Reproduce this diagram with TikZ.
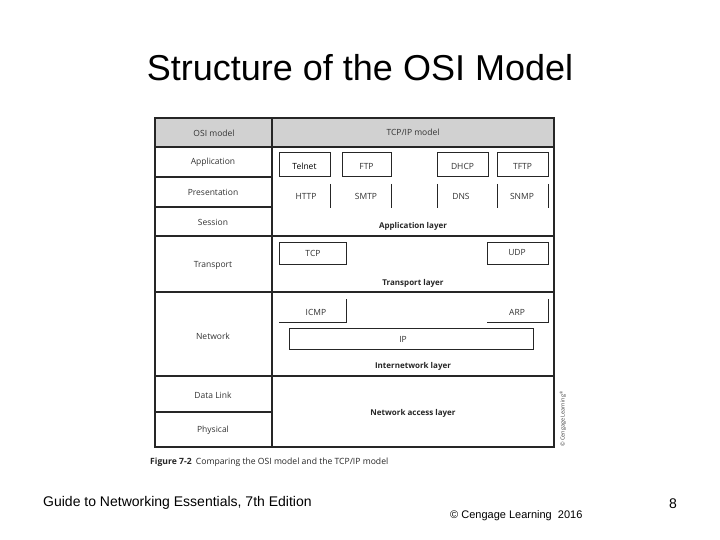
\documentclass[tikz,border=0pt]{standalone}
\usepackage{fontspec}
\setmainfont{Liberation Sans}
\newfontfamily\tabfont{Open Sans}
\begin{document}
\begin{tikzpicture}[x=1pt,y=-1pt,
  thickline/.style={line width=2pt,draw=black!85},
  thinline/.style={line width=1pt,draw=black!85},
  celltext/.style={font=\tabfont\fontsize{8.5}{9}\selectfont,text=black!80,inner sep=0pt},
  layertext/.style={font=\tabfont\bfseries\fontsize{8}{9}\selectfont,text=black!85,inner sep=0pt},
  title/.style={font=\fontsize{36}{40}\selectfont,inner sep=0pt},
  footer/.style={font=\fontsize{14}{16}\selectfont,inner sep=0pt}]
\useasboundingbox (0,0) rectangle (720,540);
\fill[white] (0,0) rectangle (720,540);

% title
\node[title] (ttl) at (360,68) {Structure of the OSI Model};

% header background
\fill[black!18] (155,118) rectangle (554,147);

% table grid
\draw[thickline] (155,118) rectangle (554,447);
\draw[thickline] (155,147) -- (554,147);
\draw[thickline] (272,118) -- (272,447);
\draw[thickline] (155,177) -- (272,177);
\draw[thickline] (155,207) -- (272,207);
\draw[thickline] (155,236) -- (554,236);
\draw[thickline] (155,292) -- (554,292);
\draw[thickline] (155,376) -- (554,376);
\draw[thickline] (155,412) -- (272,412);

% protocol boxes
\draw[thinline] (279,153) rectangle (330,177);
\draw[thinline] (342,153) rectangle (391,177);
\draw[thinline] (437,153) rectangle (488,177);
\draw[thinline] (497,153) rectangle (548,177);
\draw[thinline] (330,184) -- (330,208);
\draw[thinline] (391,184) -- (391,208);
\draw[thinline] (437,184) -- (437,208);
\draw[thinline] (497,184) -- (497,208);
\draw[thinline] (548,184) -- (548,208);
\draw[thinline] (279,242) rectangle (346,264);
\draw[thinline] (487,242) rectangle (548,264);
\draw[thinline] (346,299) -- (346,322) -- (279,322);
\draw[thinline] (548,299) -- (548,322) -- (487,322);
\draw[thinline] (289,328) rectangle (533,349);

% header texts
\node[celltext] (hosi) at (214,133) {OSI model};
\node[celltext] (htcp) at (413,132) {TCP/IP model};

% OSI layers
\node[celltext] (app) at (213,162) {Application};
\node[celltext] (pres) at (213,192) {Presentation};
\node[celltext] (sess) at (213,222) {Session};
\node[celltext] (trans) at (213,265) {Transport};
\node[celltext] (net) at (213,336) {Network};
\node[celltext] (dl) at (213,395) {Data Link};
\node[celltext] (phy) at (213,430) {Physical};

% protocols
\node[celltext,text=black] (telnet) at (304.5,166) {Telnet};
\node[celltext] (ftp) at (366.5,166) {FTP};
\node[celltext] (dhcp) at (462.5,166) {DHCP};
\node[celltext] (tftp) at (522.5,166) {TFTP};
\node[celltext] (http) at (306,196) {HTTP};
\node[celltext] (smtp) at (366,196) {SMTP};
\node[celltext] (dns) at (461,196) {DNS};
\node[celltext] (snmp) at (522,196) {SNMP};
\node[celltext] (tcp) at (313,253) {TCP};
\node[celltext] (udp) at (517,253) {UDP};
\node[celltext] (icmp) at (316,312) {ICMP};
\node[celltext] (arp) at (517,312) {ARP};
\node[celltext] (ip) at (403,339) {IP};

% TCP/IP layers
\node[layertext] (appl) at (413,226) {Application layer};
\node[layertext] (transl) at (413,283) {Transport layer};
\node[layertext] (inetl) at (413,366) {Internetwork layer};
\node[layertext] (nal) at (413,413) {Network access layer};

% copyright vertical
\node[font=\tabfont\fontsize{5.5}{6}\selectfont,text=black!75,rotate=90,inner sep=0pt] (cpy) at (563,419) {© Cengage Learning\textsuperscript{®}};

% caption
\node[anchor=west,inner sep=0pt,font=\tabfont\fontsize{8.6}{9}\selectfont,text=black!85] (cap) at (150,462) {{\bfseries Figure 7-2}\enspace Comparing the OSI model and the TCP/IP model};

% footer
\node[footer,anchor=west] (guide) at (43,503) {Guide to Networking Essentials, 7th Edition};
\node[font=\fontsize{11}{13}\selectfont,inner sep=0pt,anchor=west] (cl) at (450,516) {© Cengage Learning\ \ 2016};
\node[footer] (pg) at (673,504) {8};
\end{tikzpicture}
\end{document}
